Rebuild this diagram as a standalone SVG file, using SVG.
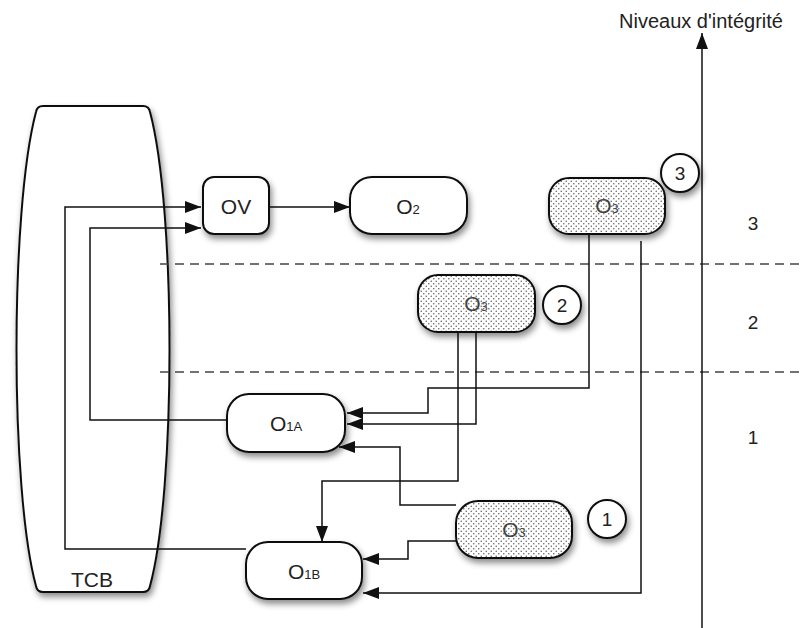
<svg xmlns="http://www.w3.org/2000/svg" width="803" height="628" viewBox="0 0 803 628">
<style>
.shape{fill:#fff;stroke:#111;stroke-width:2;filter:url(#sh)}
.dot{fill:url(#dots);stroke:#111;stroke-width:2;filter:url(#sh)}
.conn{fill:none;stroke:#111;stroke-width:1.5}
.dash{fill:none;stroke:#444;stroke-width:1.6;stroke-dasharray:9,6}
.t{font-family:"Liberation Sans",Arial,Helvetica,sans-serif;fill:#222}
.lbl{text-anchor:middle}
.o3{fill:#444}
</style>
<defs>
<filter id="sh" x="-30%" y="-30%" width="160%" height="170%">
<feDropShadow dx="2" dy="4" stdDeviation="3" flood-color="#000" flood-opacity="0.45"/>
</filter>
<pattern id="dots" width="5" height="5" patternUnits="userSpaceOnUse">
<rect width="5" height="5" fill="#fff"/>
<circle cx="1.25" cy="1.25" r="0.8" fill="#666"/>
<circle cx="3.75" cy="3.75" r="0.8" fill="#666"/>
</pattern>
<marker id="ah" viewBox="0 0 16 12" refX="16" refY="6" markerWidth="16" markerHeight="12" markerUnits="userSpaceOnUse" orient="auto">
<path d="M0,0 L16,6 L0,12 z" fill="#111"/>
</marker>
</defs>

<g id="TCB">
<path class="shape" d="M43,106 H143 Q149,106 150,112 C176,210 176,490 150,586 Q149,592 143,592 H43 Q37,592 36,586 C10,490 10,210 36,112 Q37,106 43,106 Z"/>
<text class="t" x="92" y="587" font-size="21" text-anchor="middle">TCB</text>
</g>

<g id="levels">
<line class="dash" x1="160" y1="264" x2="803" y2="264"/>
<line class="dash" x1="160" y1="372" x2="803" y2="372"/>
</g>

<g id="connectors">
<path class="conn" d="M246,549 H65 V207 H201" marker-end="url(#ah)"/>
<path class="conn" d="M227,420 H90 V228 H201" marker-end="url(#ah)"/>
<path class="conn" d="M269,207 H350" marker-end="url(#ah)"/>
<path class="conn" d="M589,234 V388 H428 V413 H347" marker-end="url(#ah)"/>
<path class="conn" d="M476,332 V424 H347" marker-end="url(#ah)"/>
<path class="conn" d="M458,332 V481 H322 V542" marker-end="url(#ah)"/>
<path class="conn" d="M456,505 H400 V447 H339" marker-end="url(#ah)"/>
<path class="conn" d="M456,541 H408 V559 H363" marker-end="url(#ah)"/>
<path class="conn" d="M641,241 V593 H363" marker-end="url(#ah)"/>
<path class="conn" d="M702,628 V33" stroke-width="1.8" marker-end="url(#ah)"/>
</g>

<g id="OV">
<rect class="shape" x="203" y="177" width="66" height="57" rx="11"/>
<text class="t lbl" x="236" y="214" font-size="21">OV</text>
</g>

<g id="O2">
<rect class="shape" x="350" y="177" width="117" height="57" rx="22"/>
<text class="t" x="408" y="214" text-anchor="middle" font-size="21">O<tspan font-size="13">2</tspan></text>
</g>

<g id="O3_level3">
<rect class="dot" x="549" y="178" width="116" height="56" rx="20"/>
<text class="t o3" x="607" y="213" text-anchor="middle" font-size="21">O<tspan font-size="13">3</tspan></text>
</g>

<g id="O3_level2">
<rect class="dot" x="418" y="275" width="117" height="57" rx="20"/>
<text class="t o3" x="476" y="311" text-anchor="middle" font-size="21">O<tspan font-size="13">3</tspan></text>
</g>

<g id="O3_level1">
<rect class="dot" x="456" y="501" width="116" height="57" rx="22"/>
<text class="t o3" x="514" y="537" text-anchor="middle" font-size="21">O<tspan font-size="13">3</tspan></text>
</g>

<g id="O1A">
<rect class="shape" x="227" y="394" width="118" height="58" rx="22"/>
<text class="t" x="286" y="431" text-anchor="middle" font-size="21">O<tspan font-size="13">1A</tspan></text>
</g>

<g id="O1B">
<rect class="shape" x="246" y="542" width="116" height="57" rx="22"/>
<text class="t" x="304" y="579" text-anchor="middle" font-size="21">O<tspan font-size="13">1B</tspan></text>
</g>

<g id="badge3">
<circle class="shape" cx="680" cy="173" r="19"/>
<text class="t lbl" x="680" y="180" font-size="19">3</text>
</g>
<g id="badge2">
<circle class="shape" cx="562" cy="305" r="19"/>
<text class="t lbl" x="562" y="312" font-size="19">2</text>
</g>
<g id="badge1">
<circle class="shape" cx="607" cy="519" r="19"/>
<text class="t lbl" x="607" y="526" font-size="19">1</text>
</g>

<g id="axis-labels">
<text class="t" x="701" y="28" font-size="20" text-anchor="middle">Niveaux d'intégrité</text>
<text class="t lbl" x="753" y="230" font-size="19">3</text>
<text class="t lbl" x="753" y="329" font-size="19">2</text>
<text class="t lbl" x="753" y="444" font-size="19">1</text>
</g>
</svg>
